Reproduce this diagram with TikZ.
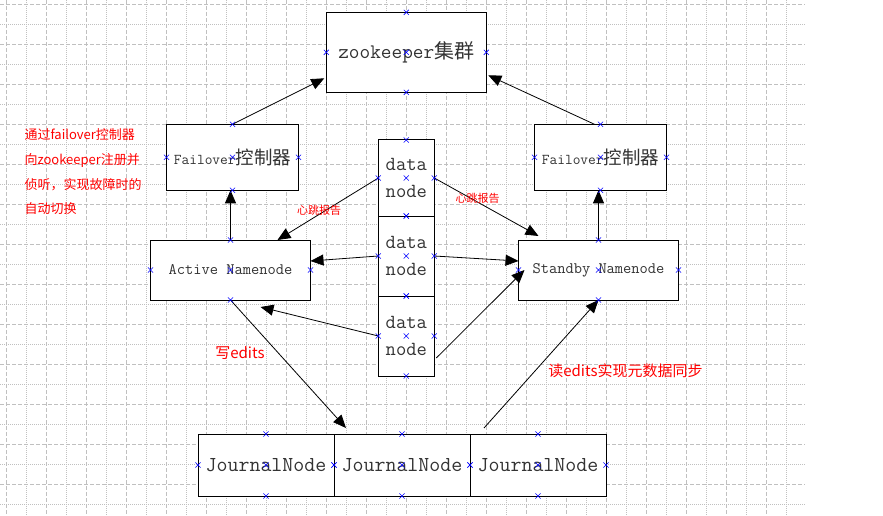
\documentclass[tikz,border=0pt]{standalone}
\usepackage{fontspec}
\newfontfamily\cjk{Noto Sans CJK SC}
\usetikzlibrary{arrows.meta, positioning, shapes.misc}
\definecolor{gridgray}{RGB}{192,192,192}
\newcommand\zh[2]{{\fontsize{#1}{#1}\cjk #2}}

\begin{document}
\begin{tikzpicture}[x=1pt, y=-1pt,
    gridmaj/.style={gridgray, line width=0.8pt, dash pattern=on 4pt off 2pt},
    gridmin/.style={gridgray, line width=0.8pt, dash pattern=on 1pt off 1pt},
    box/.style={draw, line width=1pt, fill=white, inner sep=0pt, outer sep=0pt, text=black!80, align=center},
    dnode/.style={box, minimum width=56pt, minimum height=80pt, font=\ttfamily\fontsize{20}{26.5}\selectfont},
    jnode/.style={box, minimum width=136pt, minimum height=62pt, font=\ttfamily\fontsize{21.3}{22}\selectfont},
    arr/.style={-{Triangle[length=13pt, width=11pt]}, line width=0.8pt},
    note/.style={text=red, inner sep=0pt, font=\cjk\fontsize{15}{17}\selectfont},
    xmark/.style={cross out, draw=blue, line width=0.6pt, minimum size=4.5pt, inner sep=0pt}]
        \fill[white] (0,0) rectangle (883,516);
        \useasboundingbox (0,0) rectangle (883,516);
        \foreach \i in {0,2,...,38} \draw[gridmaj] (6.3+20*\i,0) -- (6.3+20*\i,516);
        \foreach \i in {1,3,...,39} \draw[gridmin] (6.3+20*\i,0) -- (6.3+20*\i,516);
        \foreach \j in {0,2,...,24} \draw[gridmaj] (0,4.3+20*\j) -- (805,4.3+20*\j);
        \foreach \j in {1,3,...,25} \draw[gridmin] (0,4.3+20*\j) -- (805,4.3+20*\j);

        \node[box, minimum width=160pt, minimum height=80pt, font=\ttfamily\fontsize{20.7}{22}\selectfont] (zk) at (406.3,52.3) {zookeeper\zh{20}{集群}};
        \node[box, minimum width=132pt, minimum height=66pt, font=\ttfamily\fontsize{15}{17}\selectfont] (fl) at (232.5,157.3) {Failover\zh{18.5}{控制器}};
        \node[box, minimum width=132pt, minimum height=66pt, font=\ttfamily\fontsize{15}{17}\selectfont] (fr) at (600.5,157.3) {Failover\zh{18.5}{控制器}};
        \node[box, minimum width=160pt, minimum height=60pt, font=\ttfamily\fontsize{16}{18}\selectfont] (an) at (230.5,270) {Active Namenode};
        \node[box, minimum width=160pt, minimum height=60pt, font=\ttfamily\fontsize{16}{18}\selectfont] (sn) at (598.5,270) {Standby Namenode};
        \node[dnode, minimum height=76pt] (dn1) at (406.3,178) {data\\node};
        \node[dnode, below=0pt of dn1] (dn2) {data\\node};
        \node[dnode, below=0pt of dn2] (dn3) {data\\node};
        \node[jnode] (jn1) at (266,465) {JournalNode};
        \node[jnode, right=0pt of jn1] (jn2) {JournalNode};
        \node[jnode, right=0pt of jn2] (jn3) {JournalNode};

        \draw[arr] (fl.north) -- ([xshift=-2pt, yshift=14pt]zk.south west);
        \draw[arr] ([xshift=-6pt]fr.north) -- ([xshift=2pt, yshift=17pt]zk.south east);
        \draw[arr] (an.north) -- (an.north |- fl.south);
        \draw[arr] (sn.north) -- (sn.north |- fr.south);
        \draw[arr] (dn1.west) -- ([xshift=47pt]an.north);
        \draw[arr] (dn1.east) -- ([xshift=-60pt, yshift=4pt]sn.north);
        \draw[arr] (dn2.west) -- ([yshift=9pt]an.east);
        \draw[arr] (dn2.east) -- ([yshift=9pt]sn.west);
        \draw[arr] (dn3.west) -- ([xshift=30pt, yshift=-7pt]an.south);
        \draw[arr] ([xshift=2pt, yshift=-22pt]dn3.east) -- ([xshift=6pt]sn.west);
        \draw[arr] (an.south) -- ([xshift=12pt, yshift=6pt]jn2.north west);
        \draw[arr] ([xshift=14pt, yshift=6pt]jn3.north west) -- (sn.south);

        \node[note, anchor=west, align=left, font=\cjk\fontsize{13}{24.7}\selectfont] (tip) at (24.3,172) {通过failover控制器\\向zookeeper注册并\\侦听，实现故障时的\\自动切换};
        \node[note, font=\cjk\fontsize{11}{12}\selectfont] (hb1) at (319,210) {心跳报告};
        \node[note, font=\cjk\fontsize{11}{12}\selectfont] (hb2) at (477.5,198) {心跳报告};
        \node[note] (wr) at (240,353) {写edits};
        \node[note] (rd) at (625.5,371) {读edits实现元数据同步};

        \foreach \n in {zk,fl,fr,an,sn,dn1,dn2,dn3,jn1,jn2,jn3}
            \foreach \a in {north,south,east,west,center}
                \node[xmark] at (\n.\a) {};
    \end{tikzpicture}
\end{document}
